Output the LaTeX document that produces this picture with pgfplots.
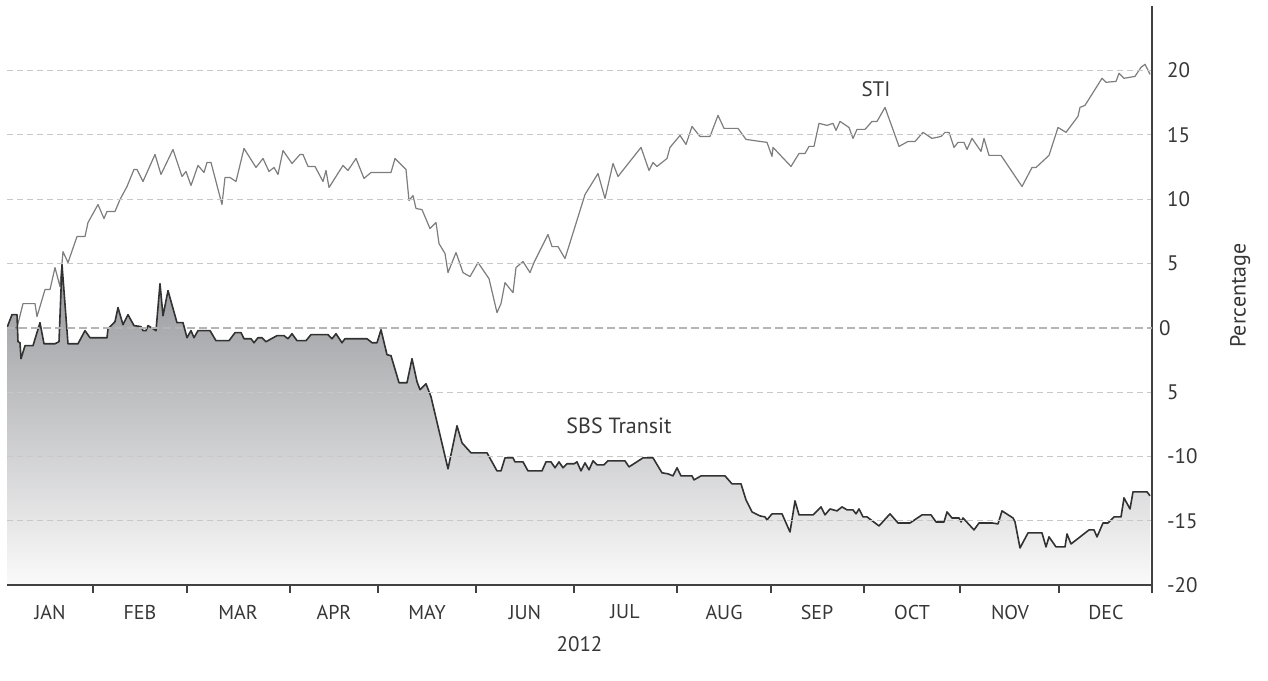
\documentclass[border=0pt]{standalone}
\usepackage{fontspec}
\setmainfont{PT Sans}
\usepackage{pgfplots}
\usepackage{pgfplotstable}
\pgfplotsset{compat=1.18}
\definecolor{txt}{RGB}{55,55,55}
\definecolor{axisc}{RGB}{65,65,65}
\definecolor{gridc}{RGB}{200,200,200}
\definecolor{zeroc}{RGB}{180,180,180}
\definecolor{stic}{RGB}{125,125,125}
\definecolor{sbsc}{RGB}{50,50,50}
\definecolor{filltop}{RGB}{150,151,155}
\definecolor{fillbot}{RGB}{250,250,250}

\pgfplotstableread{
t v
0 0.00
10 0.00
16 1.87
28 1.87
30 0.86
38 2.96
43 2.96
48 4.67
53 3.19
56 5.91
61 5.06
70 7.08
78 7.08
81 8.17
91 9.57
97 8.48
100 9.03
108 9.03
113 9.96
120 10.97
127 12.30
130 12.30
136 11.36
148 13.46
154 11.91
166 13.85
175 11.75
179 12.14
184 11.05
191 12.61
197 12.06
200 12.84
204 12.84
215 9.57
218 11.67
223 11.67
229 11.36
237 13.93
249 12.45
256 13.15
262 12.14
267 12.45
271 11.91
276 13.77
285 12.76
293 13.46
296 13.46
301 12.53
308 12.53
316 11.36
319 12.22
322 10.89
336 12.61
341 12.22
349 13.15
357 11.60
364 12.06
384 12.06
388 13.15
399 12.30
402 9.88
406 10.27
409 9.26
415 9.18
423 7.70
429 8.17
432 6.54
438 5.76
441 4.28
449 5.84
456 4.28
463 3.97
471 5.06
482 3.81
490 1.17
494 1.87
498 3.50
506 2.72
509 4.67
516 5.14
523 4.28
527 5.06
541 7.24
545 6.30
551 6.30
558 5.37
563 6.61
578 10.35
591 11.98
598 10.04
606 12.76
611 11.75
634 14.01
642 12.22
646 12.84
650 12.53
660 13.15
663 14.01
673 14.94
679 14.24
685 15.64
693 14.86
703 14.86
711 16.50
717 15.49
731 15.49
739 14.63
760 14.40
765 13.31
766 14.01
784 12.53
792 13.54
798 13.54
802 14.09
807 14.09
812 15.88
820 15.72
826 15.88
829 15.33
833 16.03
842 15.56
846 14.71
850 15.41
858 15.41
865 16.03
870 16.03
878 17.12
892 14.09
901 14.47
908 14.47
916 15.18
925 14.71
934 14.86
938 15.18
942 15.18
947 14.01
951 14.40
957 14.40
960 13.85
965 14.71
974 13.70
977 14.71
982 13.39
994 13.39
1015 10.97
1025 12.45
1029 12.45
1042 13.39
1051 15.56
1059 15.18
1071 16.42
1073 17.12
1078 17.28
1095 19.38
1099 19.07
1109 19.14
1112 19.77
1117 19.38
1128 19.53
1134 20.23
1138 20.47
1143 19.69
}\sti

\pgfplotstableread{
t v
0 0.00
5 1.01
10 1.01
11 -1.09
13 -1.17
14 -2.41
18 -1.40
26 -1.40
33 0.39
37 -1.25
48 -1.25
52 -1.09
55 4.90
61 -1.25
71 -1.25
78 -0.23
83 -0.78
100 -0.78
101 -0.08
108 0.47
111 1.56
116 0.23
121 1.01
127 0.16
134 0.08
136 -0.23
139 -0.23
141 0.16
146 -0.08
149 -0.23
153 3.42
156 0.93
161 2.88
170 0.39
176 0.39
180 -0.78
184 -0.23
187 -0.78
191 -0.23
203 -0.23
209 -1.01
222 -1.01
228 -0.39
234 -0.39
237 -0.86
244 -0.86
247 -1.17
251 -0.78
255 -0.78
259 -1.09
270 -0.62
277 -0.62
281 -0.86
285 -0.47
290 -1.01
299 -1.01
304 -0.54
321 -0.54
325 -0.86
329 -0.47
335 -1.17
338 -0.86
360 -0.86
365 -1.17
370 -1.17
374 -0.16
380 -2.10
384 -2.18
392 -4.28
400 -4.28
405 -2.41
410 -4.20
413 -4.82
419 -4.36
424 -5.37
441 -10.97
450 -7.63
455 -8.95
464 -9.73
480 -9.73
490 -11.13
494 -11.13
498 -10.12
506 -10.12
508 -10.43
516 -10.43
521 -11.13
535 -11.13
539 -10.43
544 -10.43
548 -10.89
552 -10.43
556 -10.89
560 -10.58
567 -10.58
570 -10.43
574 -11.13
578 -10.51
582 -11.05
586 -10.35
590 -10.66
597 -10.66
601 -10.35
618 -10.35
622 -10.82
636 -10.12
646 -10.12
655 -11.28
661 -11.36
666 -11.52
670 -10.89
674 -11.52
685 -11.52
687 -11.83
694 -11.52
718 -11.52
725 -12.14
734 -12.14
739 -13.39
745 -14.32
753 -14.63
758 -14.71
760 -14.94
765 -14.47
775 -14.47
783 -15.88
788 -13.46
792 -14.55
806 -14.55
814 -13.93
818 -14.55
823 -14.09
830 -14.24
835 -13.93
840 -14.16
846 -14.16
849 -14.47
852 -14.09
856 -14.71
860 -14.71
872 -15.41
883 -14.47
891 -15.18
903 -15.18
915 -14.55
924 -14.55
929 -15.10
937 -15.10
940 -14.32
945 -14.79
952 -14.79
954 -15.10
956 -14.79
967 -15.72
972 -15.18
985 -15.18
991 -15.25
995 -14.24
1006 -14.79
1008 -15.10
1013 -17.12
1021 -15.95
1035 -15.95
1039 -17.04
1042 -16.26
1049 -17.04
1058 -17.04
1060 -16.03
1064 -16.81
1082 -15.72
1087 -15.72
1090 -16.26
1096 -15.18
1101 -15.18
1107 -14.71
1114 -14.71
1117 -13.23
1123 -14.09
1126 -12.76
1140 -12.76
1143 -13.07
}\sbs

\begin{document}
\begin{tikzpicture}
\begin{axis}[
  scale only axis, width=572.5pt, height=289.5pt,
  xmin=0, xmax=1145, ymin=-20, ymax=25,
  axis x line*=bottom, axis y line*=right,
  axis line style={-, draw=axisc, line width=1pt},
  xtick={86,180,283,371,469,567,670,764,857,953,1052,1145},
  xticklabels={},
  tick align=outside,
  major tick length=4pt,
  xtick style={draw=axisc, line width=0.6pt},
  extra x ticks={43,133,231,327,420,518,618,717,810,905,1003,1099},
  extra x tick labels={JAN,FEB,MAR,APR,MAY,JUN,JUL,AUG,SEP,OCT,NOV,DEC},
  extra x tick style={major tick length=0pt},
  xticklabel style={anchor=center, yshift=-13.5pt},
  ytick={-20,-15,-10,-5,5,10,15,20},
  yticklabels={-20,-15,-10,5,5,10,15,20},
  extra y ticks={0}, extra y tick labels={0},
  extra y tick style={major tick length=0pt, major grid style={zeroc, line width=1pt, dash pattern=on 4pt off 2pt}},
  ytick style={draw=none},
  ymajorgrids,
  major grid style={gridc, line width=0.5pt, dash pattern=on 3pt off 2pt},
  yticklabel style={anchor=west, xshift=0pt, font=\fontsize{10.5}{12}\selectfont},
  tick label style={font=\fontsize{10}{12}\selectfont, text=txt},
  xlabel={2012}, ylabel={Percentage},
  xlabel style={at={(axis description cs:0.5,-0.102)}, anchor=center, font=\fontsize{10.5}{12}\selectfont, text=txt},
  ylabel style={at={(axis description cs:1.077,0.5)}, anchor=center, font=\fontsize{11}{12}\selectfont, text=txt},
  axis on top,
]
\addplot[draw=none, top color=filltop, bottom color=fillbot] table[x=t, y=v] {\sbs} -- (axis cs:1143,-20) -- (axis cs:0,-20) -- cycle;
\addplot[stic, line width=0.6pt, line join=round] table[x=t, y=v] {\sti};
\addplot[sbsc, line width=0.8pt, line join=round] table[x=t, y=v] {\sbs};
\node[text=txt, font=\fontsize{10.5}{12}\selectfont] at (axis cs:869,18.5) {STI};
\node[text=txt, font=\fontsize{11}{12}\selectfont] at (axis cs:612,-7.6) {SBS Transit};
\end{axis}
\pgfresetboundingbox
\path[use as bounding box] ([xshift=-3.5pt,yshift=-47.5pt]current axis.south west) rectangle ([xshift=630.5pt,yshift=292.5pt]current axis.south west);
\end{tikzpicture}
\end{document}
